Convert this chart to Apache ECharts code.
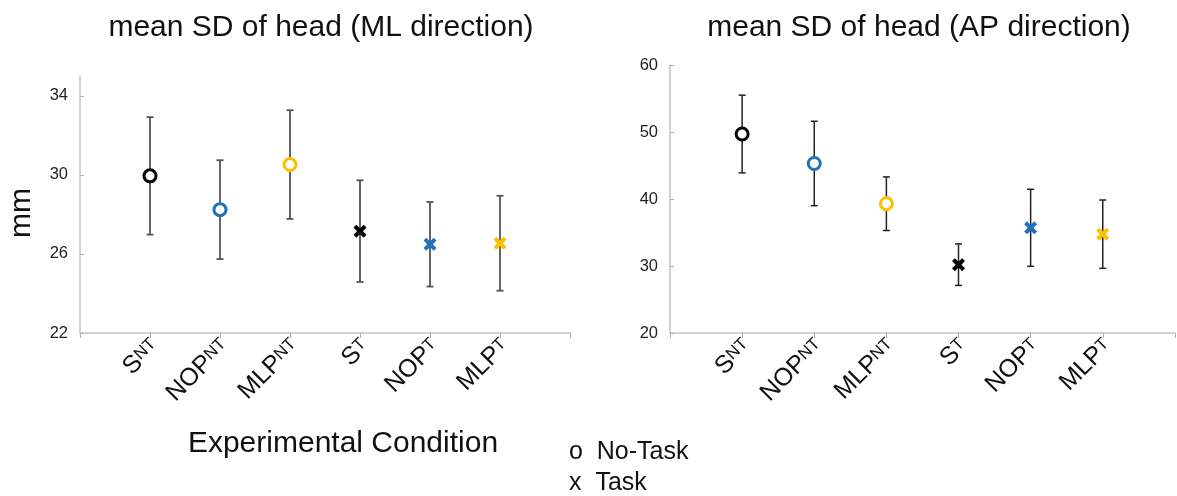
<!DOCTYPE html>
<html>
<head>
<meta charset="utf-8">
<script src="https://cdn.jsdelivr.net/npm/echarts@6/dist/echarts.min.js"></script>
<style>
    html, body { margin: 0; padding: 0; background: #fff; }
    #main { width: 1177px; height: 496px; }
</style>
</head>
<body>
<div id="main"></div>
<script>
// 条件（两端各留一个空位）
let conditions = ['start', 'S_NT', 'NOP_NT', 'MLP_NT', 'S_T', 'NOP_T', 'MLP_T', 'end'];
let condBase = ['', 'S', 'NOP', 'MLP', 'S', 'NOP', 'MLP', ''];
let condSub = ['', 'NT', 'NT', 'NT', 'T', 'T', 'T', ''];

// ML 方向
let mlMean = [29.95, 28.24, 30.52, 27.15, 26.49, 26.54];
let mlSd = [2.97, 2.5, 2.75, 2.57, 2.14, 2.4];
let mlTicks = [22, 26, 30, 34];

// AP 方向
let apMean = [49.7, 45.3, 39.3, 30.2, 35.7, 34.75];
let apSd = [5.8, 6.3, 4.0, 3.1, 5.75, 5.1];
let apTicks = [20, 30, 40, 50, 60];

let markerColors = ['#000000', '#1f73be', '#ffc000', '#000000', '#1f73be', '#ffc000'];
let taskFlag = [false, false, false, true, true, true];

let titles = ['mean SD of head (ML direction)', 'mean SD of head (AP direction)'];
let legendTexts = ['o  No-Task', 'x  Task'];

let FONT = 'Liberation Sans, Arial, sans-serif';
let crossPath = 'path://M0,2.2 L2.2,0 L5,2.8 L7.8,0 L10,2.2 L7.2,5 L10,7.8 L7.8,10 L5,7.2 L2.2,10 L0,7.8 L2.8,5 Z';

function makeGrid(left, top, width, height) {
    return {left: left, top: top, width: width, height: height};
}

function makeXAxis(gridIndex) {
    return {
        type: 'category',
        gridIndex: gridIndex,
        boundaryGap: false,
        data: conditions,
        axisLine: {lineStyle: {color: '#c4c4c4', width: 1.5}},
        axisTick: {show: true, inside: false, length: 5, lineStyle: {color: '#b0b0b0'}},
        splitLine: {show: false},
        axisLabel: {
            interval: 0,
            rotate: 45,
            margin: 5,
            verticalAlign: 'top',
            formatter: function (value, index) {
                if (!condBase[index]) {
                    return '';
                }
                return '{b|' + condBase[index] + '}{s|' + condSub[index] + '}';
            },
            rich: {
                b: {fontSize: 25, fontFamily: FONT, color: '#111', lineHeight: 14},
                s: {fontSize: 17, fontFamily: FONT, color: '#111', lineHeight: 14, padding: [0, 0, 5, 0]}
            }
        }
    };
}

function makeYAxis(gridIndex, min, max, ticks) {
    return {
        type: 'value',
        gridIndex: gridIndex,
        min: min,
        max: max,
        axisLine: {show: true, lineStyle: {color: '#c4c4c4', width: 1.5}},
        axisTick: {show: true, inside: true, length: 4, customValues: ticks, lineStyle: {color: '#b0b0b0'}},
        splitLine: {show: false},
        axisLabel: {customValues: ticks, margin: 12, fontSize: 16.5, fontFamily: FONT, color: '#222'}
    };
}

function makeErrorBars(axisIndex, means, sds, color, width) {
    let data = means.map(function (m, i) {
        return [i + 1, m - sds[i], m + sds[i]];
    });
    return {
        type: 'custom',
        xAxisIndex: axisIndex,
        yAxisIndex: axisIndex,
        data: data,
        z: 1,
        renderItem: function (params, api) {
            let low = api.coord([api.value(0), api.value(1)]);
            let high = api.coord([api.value(0), api.value(2)]);
            let cap = 3.5;
            let style = {stroke: color, lineWidth: width};
            return {
                type: 'group',
                children: [
                    {type: 'line', shape: {x1: low[0], y1: low[1], x2: high[0], y2: high[1]}, style: style},
                    {type: 'line', shape: {x1: low[0] - cap, y1: low[1], x2: low[0] + cap, y2: low[1]}, style: style},
                    {type: 'line', shape: {x1: high[0] - cap, y1: high[1], x2: high[0] + cap, y2: high[1]}, style: style}
                ]
            };
        }
    };
}

function makeMarkers(axisIndex, means) {
    let data = means.map(function (m, i) {
        let c = markerColors[i];
        if (taskFlag[i]) {
            return {value: [i + 1, m], symbol: crossPath, symbolSize: 13, itemStyle: {color: c, borderWidth: 0, opacity: 1}};
        }
        return {value: [i + 1, m], symbol: 'circle', symbolSize: 12, itemStyle: {color: '#fff', borderColor: c, borderWidth: 3, opacity: 1}};
    });
    return {
        type: 'scatter',
        xAxisIndex: axisIndex,
        yAxisIndex: axisIndex,
        data: data,
        itemStyle: {opacity: 1},
        z: 3,
        silent: true
    };
}

let graphics = [
    {type: 'text', x: 321, y: 28, style: {text: titles[0], fontSize: 30, fontFamily: FONT, fill: '#111', textAlign: 'center', textVerticalAlign: 'middle'}},
    {type: 'text', x: 919, y: 28, style: {text: titles[1], fontSize: 30, fontFamily: FONT, fill: '#111', textAlign: 'center', textVerticalAlign: 'middle'}},
    {type: 'text', x: 22, y: 213, rotation: Math.PI / 2, style: {text: 'mm', fontSize: 30, fontFamily: FONT, fill: '#111', textAlign: 'center', textVerticalAlign: 'middle'}},
    {type: 'text', x: 343, y: 444, style: {text: 'Experimental Condition', fontSize: 30, fontFamily: FONT, fill: '#111', textAlign: 'center', textVerticalAlign: 'middle'}},
    {type: 'text', x: 569, y: 452, style: {text: legendTexts[0], fontSize: 25, fontFamily: FONT, fill: '#111', textAlign: 'left', textVerticalAlign: 'middle'}},
    {type: 'text', x: 569, y: 483, style: {text: legendTexts[1], fontSize: 25, fontFamily: FONT, fill: '#111', textAlign: 'left', textVerticalAlign: 'middle'}}
];

let option = {
    backgroundColor: '#fff',
    animation: false,
    grid: [
        makeGrid(80, 76, 490, 257),
        makeGrid(670, 65, 511, 268)
    ],
    xAxis: [makeXAxis(0), makeXAxis(1)],
    yAxis: [
        makeYAxis(0, 22, 35, mlTicks),
        makeYAxis(1, 20, 60, apTicks)
    ],
    graphic: graphics,
    series: [
        makeErrorBars(0, mlMean, mlSd, '#555', 1.8),
        makeMarkers(0, mlMean),
        makeErrorBars(1, apMean, apSd, '#222', 1.5),
        makeMarkers(1, apMean)
    ]
};

let chart = echarts.init(document.getElementById('main'));
chart.setOption(option);
</script>
</body>
</html>
